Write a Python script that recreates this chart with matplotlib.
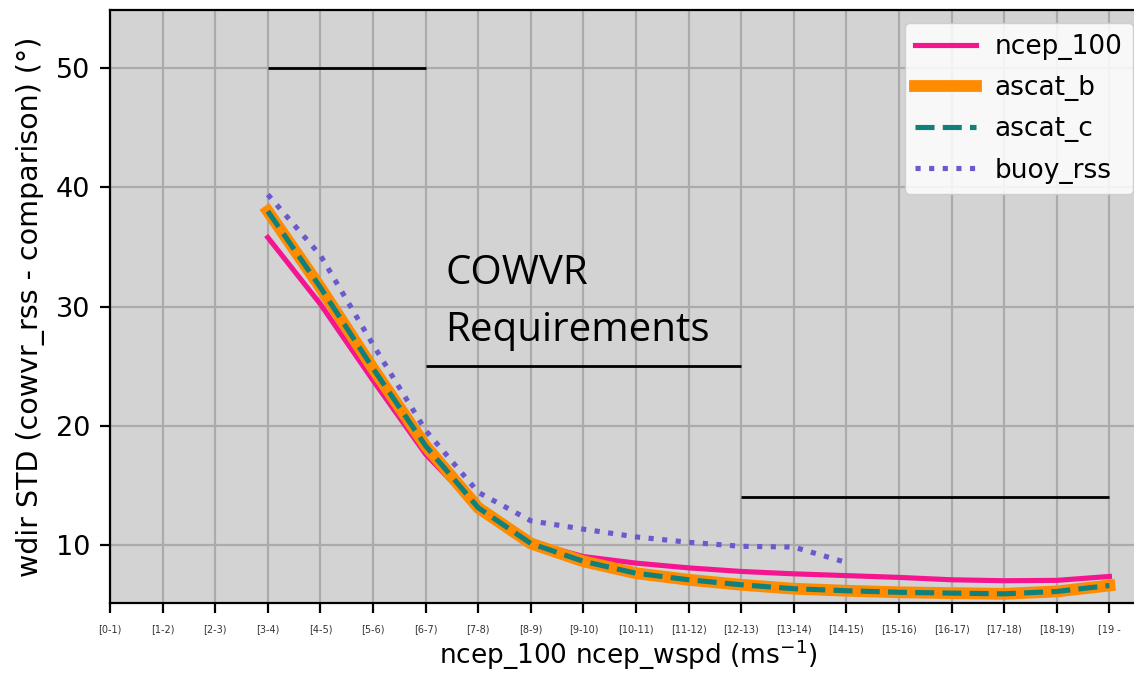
import matplotlib
matplotlib.use("Agg")
import matplotlib.pyplot as plt
import numpy as np

tick_labels = ["[0-1)", "[1-2)", "[2-3)", "[3-4)", "[4-5)", "[5-6)", "[6-7)", "[7-8)",
               "[8-9)", "[9-10)", "[10-11)", "[11-12)", "[12-13)", "[13-14)", "[14-15)",
               "[15-16)", "[16-17)", "[17-18)", "[18-19)", "[19 -"]
x_bins = list(range(3, 20))
ncep_100 = [35.8, 30.2, 23.8, 17.6, 13.0, 10.2, 9.0, 8.45, 8.05, 7.75, 7.55, 7.4, 7.25, 7.05, 6.97, 7.0, 7.33]
ascat_b = [38.0, 31.6, 24.8, 18.3, 13.1, 10.1, 8.6, 7.6, 7.05, 6.63, 6.3, 6.13, 6.0, 5.93, 5.87, 6.07, 6.57]
ascat_c = [38.0, 31.6, 24.8, 18.3, 13.1, 10.1, 8.6, 7.6, 7.05, 6.63, 6.3, 6.13, 6.0, 5.93, 5.87, 6.07, 6.57]
buoy_x = list(range(3, 15))
buoy_rss = [39.4, 34.3, 26.8, 19.6, 14.4, 12.0, 11.3, 10.65, 10.2, 9.86, 9.8, 8.5]

req_x0 = [3, 6, 12]
req_x1 = [6, 12, 19]
req_y = [50, 25, 14]

fig = plt.figure(figsize=(11.34, 6.73), dpi=100)
# axes extend slightly past the right edge of the figure, as in the reference
ax_left, ax_right, ax_bottom, ax_top = 110, 1146, 603, 10
W, H = 1134, 673
ax = fig.add_axes([ax_left / W, 1 - ax_bottom / H, (ax_right - ax_left) / W, (ax_bottom - ax_top) / H])
ax.set_facecolor("#d3d3d3")
ax.grid(True, color="#ababab", linewidth=1.6)
ax.set_axisbelow(True)
for s in ax.spines.values():
    s.set_linewidth(1.6)

ax.hlines(req_y, req_x0, req_x1, colors="black", linewidth=2.0)

ax.plot(x_bins, ncep_100, color="#f5158f", linewidth=3.7, label="ncep_100")
ax.plot(x_bins, ascat_b, color="#ff8c00", linewidth=8.5, label="ascat_b")
ax.plot(x_bins, ascat_c, color="#12807a", linewidth=3.7, linestyle="--", label="ascat_c")
ax.plot(buoy_x, buoy_rss, color="#6a5acd", linewidth=3.7, linestyle=":", label="buoy_rss")

ax.text(6.38, 31.9, "COWVR", fontsize=29, family="Open Sans", va="baseline", ha="left")
ax.text(6.38, 27.1, "Requirements", fontsize=29, family="Open Sans", va="baseline", ha="left")

ax.set_xlim(0, (ax_right - ax_left) / 52.6)
ax.set_ylim(5.1, 54.9)
ax.set_xticks(range(len(tick_labels)))
ax.set_xticklabels(tick_labels, fontsize=7, color="#333333")
ax.set_yticks([10, 20, 30, 40, 50])
ax.tick_params(axis="y", labelsize=19.5, length=7, width=1.6, pad=7)
ax.tick_params(axis="x", length=7, width=1.6, pad=8)
ax.set_xlabel("ncep_100 ncep_wspd (ms$^{-1}$)", fontsize=19, labelpad=3)
ax.set_ylabel("wdir STD (cowvr_rss - comparison) (°)", fontsize=20.5, labelpad=8)

leg = ax.legend(loc="upper right", fontsize=19, handlelength=2.3, handletextpad=0.7,
                labelspacing=0.58, framealpha=0.85, borderaxespad=0.5)

fig.savefig("out.png", dpi=100)
